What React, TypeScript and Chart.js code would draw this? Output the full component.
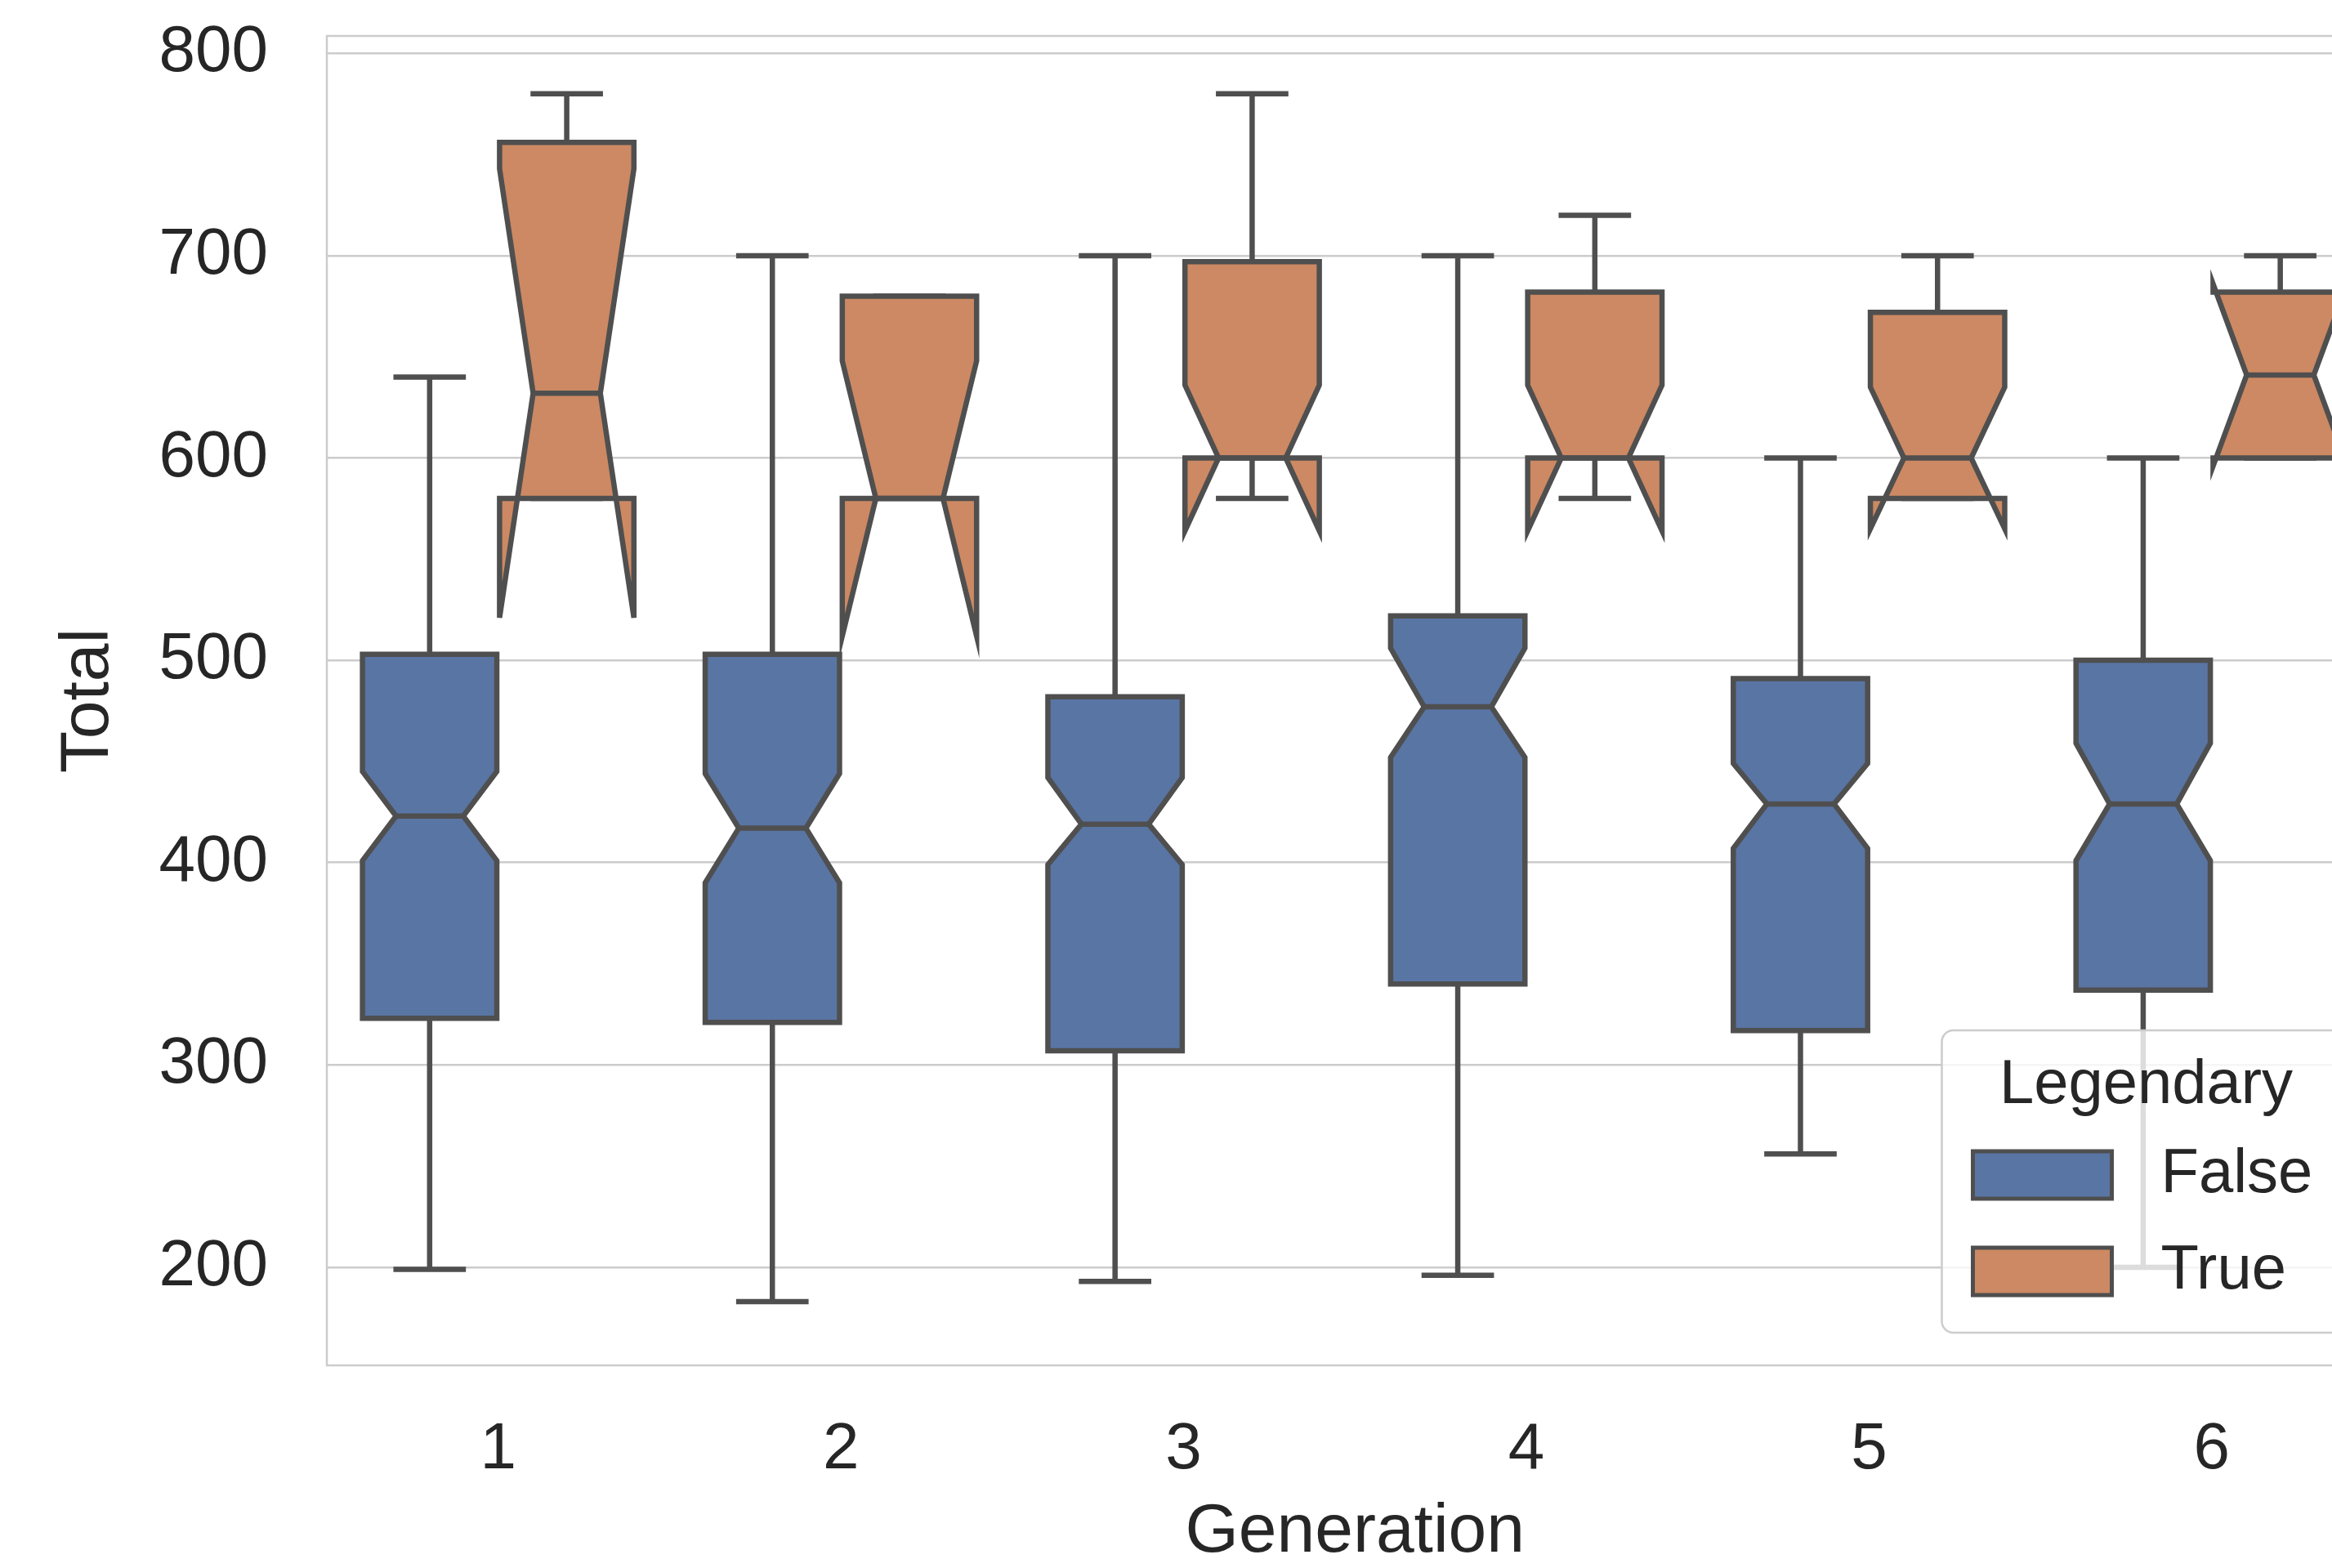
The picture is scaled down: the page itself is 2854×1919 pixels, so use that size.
import React, { useEffect, useRef } from "react";
import { Chart, registerables } from "chart.js";

Chart.register(...registerables);

// ---------- data ----------
const generations = ["1", "2", "3", "4", "5", "6"];
const hueLabels = ["False", "True"];
const legendTitle = "Legendary";
const xTitle = "Generation";
const yTitle = "Total";
const yTicks = [200, 300, 400, 500, 600, 700, 800];

// Legendary = False
const falseWhiskerLow = [199, 183, 193, 196, 256, 200];
const falseQ1 = [323, 321, 307, 340, 317, 337];
const falseNotchLow = [401, 390, 399, 452, 407, 401];
const falseMedian = [423, 417, 419, 477, 429, 429];
const falseNotchHigh = [445, 444, 442, 506, 449, 459];
const falseQ3 = [503, 503, 482, 522, 491, 500];
const falseWhiskerHigh = [640, 700, 700, 700, 600, 600];

// Legendary = True
const trueWhiskerLow = [580, 580, 580, 580, 580, 600];
const trueQ1 = [580, 580, 600, 600, 580, 600];
const trueNotchLow = [521, 512, 564, 564, 565, 596];
const trueMedian = [632, 580, 600, 600, 600, 641];
const trueNotchHigh = [743, 648, 636, 636, 635, 686];
const trueQ3 = [756, 680, 697, 682, 672, 682];
const trueWhiskerHigh = [780, 680, 780, 720, 700, 700];

const yMin = 151.5;
const yMax = 808.6;

// ---------- styles ----------
const FONT = "'Liberation Sans', Arial, sans-serif";
const TEXT = "#262626";
const GRID = "#cccccc";
const LINE = "#4f4f4f";
const LINE_W = 6.5;
const FILLS = ["#5975a4", "#cc8963"];
const CANVAS_W = 2960;
const CANVAS_H = 1919;

const seriesStats = [
  { wl: falseWhiskerLow, q1: falseQ1, nl: falseNotchLow, med: falseMedian, nh: falseNotchHigh, q3: falseQ3, wh: falseWhiskerHigh },
  { wl: trueWhiskerLow, q1: trueQ1, nl: trueNotchLow, med: trueMedian, nh: trueNotchHigh, q3: trueQ3, wh: trueWhiskerHigh },
];

const framePlugin = {
  id: "axesFrame",
  beforeDatasetsDraw(chart: any) {
    const { ctx, chartArea: a } = chart;
    ctx.save();
    ctx.strokeStyle = GRID;
    ctx.lineWidth = 2.5;
    ctx.strokeRect(a.left, a.top, a.right - a.left, a.bottom - a.top);
    ctx.restore();
  },
};

const boxPlugin = {
  id: "notchedBoxes",
  afterDatasetsDraw(chart: any) {
    const { ctx, chartArea: a } = chart;
    const ys = chart.scales.y;
    const py = (v: number) => ys.getPixelForValue(v);
    ctx.save();
    ctx.beginPath();
    ctx.rect(a.left, a.top, a.right - a.left, a.bottom - a.top);
    ctx.clip();
    seriesStats.forEach((s, d) => {
      const meta = chart.getDatasetMeta(d);
      meta.data.forEach((el: any, j: number) => {
        const cx = el.x;
        const w = el.width;
        const L = cx - w / 2;
        const R = cx + w / 2;
        const cl = cx - w / 4;
        const cr = cx + w / 4;
        ctx.strokeStyle = LINE;
        ctx.lineWidth = LINE_W;
        // whiskers and caps
        ctx.lineCap = "square";
        ctx.beginPath();
        ctx.moveTo(cx, py(s.q1[j]));
        ctx.lineTo(cx, py(s.wl[j]));
        ctx.moveTo(cx, py(s.q3[j]));
        ctx.lineTo(cx, py(s.wh[j]));
        ctx.moveTo(cl, py(s.wl[j]));
        ctx.lineTo(cr, py(s.wl[j]));
        ctx.moveTo(cl, py(s.wh[j]));
        ctx.lineTo(cr, py(s.wh[j]));
        ctx.stroke();
        // notched box
        ctx.lineCap = "butt";
        ctx.lineJoin = "miter";
        ctx.beginPath();
        ctx.moveTo(L, py(s.q1[j]));
        ctx.lineTo(R, py(s.q1[j]));
        ctx.lineTo(R, py(s.nl[j]));
        ctx.lineTo(cr, py(s.med[j]));
        ctx.lineTo(R, py(s.nh[j]));
        ctx.lineTo(R, py(s.q3[j]));
        ctx.lineTo(L, py(s.q3[j]));
        ctx.lineTo(L, py(s.nh[j]));
        ctx.lineTo(cl, py(s.med[j]));
        ctx.lineTo(L, py(s.nl[j]));
        ctx.closePath();
        ctx.fillStyle = FILLS[d];
        ctx.fill();
        ctx.stroke();
        // median
        ctx.beginPath();
        ctx.moveTo(cl, py(s.med[j]));
        ctx.lineTo(cr, py(s.med[j]));
        ctx.stroke();
      });
    });
    ctx.restore();
  },
};

const legendPlugin = {
  id: "boxLegend",
  afterDraw(chart: any) {
    const { ctx, chartArea: a } = chart;
    const w = 500;
    const h = 370;
    const right = a.right - 40;
    const bottom = a.bottom - 40;
    const left = right - w;
    const top = bottom - h;
    ctx.save();
    ctx.beginPath();
    if (ctx.roundRect) ctx.roundRect(left, top, w, h, 14);
    else ctx.rect(left, top, w, h);
    ctx.fillStyle = "rgba(255,255,255,0.8)";
    ctx.fill();
    ctx.strokeStyle = GRID;
    ctx.lineWidth = 2.5;
    ctx.stroke();

    ctx.fillStyle = TEXT;
    ctx.font = `76px ${FONT}`;
    ctx.textAlign = "center";
    ctx.textBaseline = "middle";
    ctx.fillText(legendTitle, left + w / 2, top + 68);

    hueLabels.forEach((lab, i) => {
      const cy = top + 177 + i * 118;
      ctx.fillStyle = FILLS[i];
      ctx.fillRect(left + 38, cy - 29, 170, 58);
      ctx.strokeStyle = LINE;
      ctx.lineWidth = 5;
      ctx.strokeRect(left + 38, cy - 29, 170, 58);
      ctx.fillStyle = TEXT;
      ctx.textAlign = "left";
      ctx.fillText(lab, left + 268, cy);
    });
    ctx.restore();
  },
};

export default function App() {
  const ref = useRef<HTMLCanvasElement | null>(null);

  useEffect(() => {
    if (!ref.current) return;
    const chart = new Chart(ref.current, {
      type: "bar",
      data: {
        labels: generations,
        datasets: hueLabels.map((lab, d) => ({
          label: lab,
          data: generations.map((_, j) => [seriesStats[d].q1[j], seriesStats[d].q3[j]]),
          backgroundColor: "rgba(0,0,0,0)",
          borderWidth: 0,
          categoryPercentage: 0.8,
          barPercentage: 0.98,
        })),
      } as any,
      options: {
        responsive: false,
        maintainAspectRatio: false,
        devicePixelRatio: 1,
        animation: false,
        layout: { padding: { left: 0, top: 44, right: CANVAS_W - 2916.5, bottom: 0 } },
        plugins: {
          legend: { display: false },
          tooltip: { enabled: false },
        },
        scales: {
          x: {
            type: "category",
            grid: { display: false, drawTicks: false },
            border: { display: false },
            ticks: { color: TEXT, font: { family: FONT, size: 80 }, padding: 56 },
            title: {
              display: true,
              text: xTitle,
              color: TEXT,
              font: { family: FONT, size: 84, lineHeight: 1 },
              padding: { top: 0, bottom: 1 },
            },
            afterFit: (s: any) => {
              s.height = 248;
              s.paddingLeft = 0;
              s.paddingRight = 0;
            },
          },
          y: {
            type: "linear",
            min: yMin,
            max: yMax,
            grid: { color: GRID, lineWidth: 2.5, drawTicks: false },
            border: { display: false },
            ticks: { color: TEXT, font: { family: FONT, size: 80 }, padding: 72 },
            title: {
              display: true,
              text: yTitle,
              color: TEXT,
              font: { family: FONT, size: 84 },
              padding: { top: 58, bottom: 0 },
            },
            afterBuildTicks: (s: any) => {
              s.ticks = yTicks.map((v) => ({ value: v }));
            },
            afterFit: (s: any) => {
              s.width = 400;
              s.paddingTop = 0;
              s.paddingBottom = 0;
            },
          },
        },
      } as any,
      plugins: [framePlugin, boxPlugin, legendPlugin],
    });
    return () => chart.destroy();
  }, []);

  return (
    <div
      style={{
        position: "fixed",
        left: 0,
        top: 0,
        width: "100vw",
        height: "100vh",
        overflow: "hidden",
        background: "#ffffff",
      }}
    >
      <canvas
        ref={ref}
        width={CANVAS_W}
        height={CANVAS_H}
        style={{ display: "block", width: `${CANVAS_W}px`, height: `${CANVAS_H}px` }}
      />
    </div>
  );
}
